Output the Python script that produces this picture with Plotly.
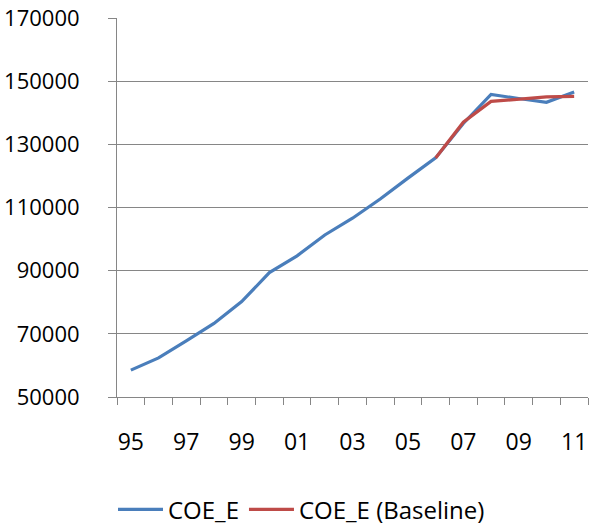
import plotly.graph_objects as go

years = list(range(1995, 2012))
coe_e = [58500, 62400, 67800, 73300, 80200, 89400, 94700, 101300, 106600,
         112700, 119300, 125700, 136600, 145800, 144500, 143300, 146600]
base_years = list(range(2006, 2012))
coe_e_base = [125700, 137000, 143600, 144300, 145000, 145200]
tick_years = list(range(1995, 2012, 2))
tick_text = ["95", "97", "99", "01", "03", "05", "07", "09", "11"]
y_ticks = [50000, 70000, 90000, 110000, 130000, 150000, 170000]

FONT = "Open Sans, Calibri, sans-serif"
GRID = "#868686"

fig = go.Figure()
fig.add_trace(go.Scatter(x=years, y=coe_e, mode="lines", name="COE_E",
                         line=dict(color="#4A7EBB", width=3.2)))
fig.add_trace(go.Scatter(x=base_years, y=coe_e_base, mode="lines", name="COE_E (Baseline)",
                         line=dict(color="#BE4B48", width=3.2)))

fig.update_layout(
    width=603, height=525,
    margin=dict(l=117, r=15, t=18, b=128),
    paper_bgcolor="white", plot_bgcolor="white",
    font=dict(family=FONT, size=22, color="#000000"),
    showlegend=True,
    legend=dict(orientation="h", xref="container", yref="container",
                x=0.5, xanchor="center", y=0.029, yanchor="middle",
                font=dict(size=24), itemwidth=45, tracegroupgap=0),
)
fig.update_xaxes(
    range=[1994.5, 2011.5], tickmode="array", tickvals=tick_years, ticktext=tick_text,
    ticks="", showgrid=False, showline=True, linecolor=GRID, linewidth=1,
    ticklabelstandoff=24, zeroline=False, automargin=False,
    tickfont=dict(size=23),
    minor=dict(tickmode="linear", tick0=1994.5, dtick=1, ticks="outside",
               ticklen=7, tickcolor=GRID, tickwidth=1, showgrid=False),
)
fig.update_yaxes(
    range=[50000, 170000], tickmode="array", tickvals=y_ticks,
    ticks="outside", ticklen=8, tickcolor=GRID, tickwidth=1,
    showgrid=True, gridcolor=GRID, gridwidth=1,
    showline=True, linecolor=GRID, linewidth=1, zeroline=False,
    tickformat="d", ticklabelstandoff=24, automargin=False,
    tickfont=dict(size=22),
)

fig.write_html("out.html")
